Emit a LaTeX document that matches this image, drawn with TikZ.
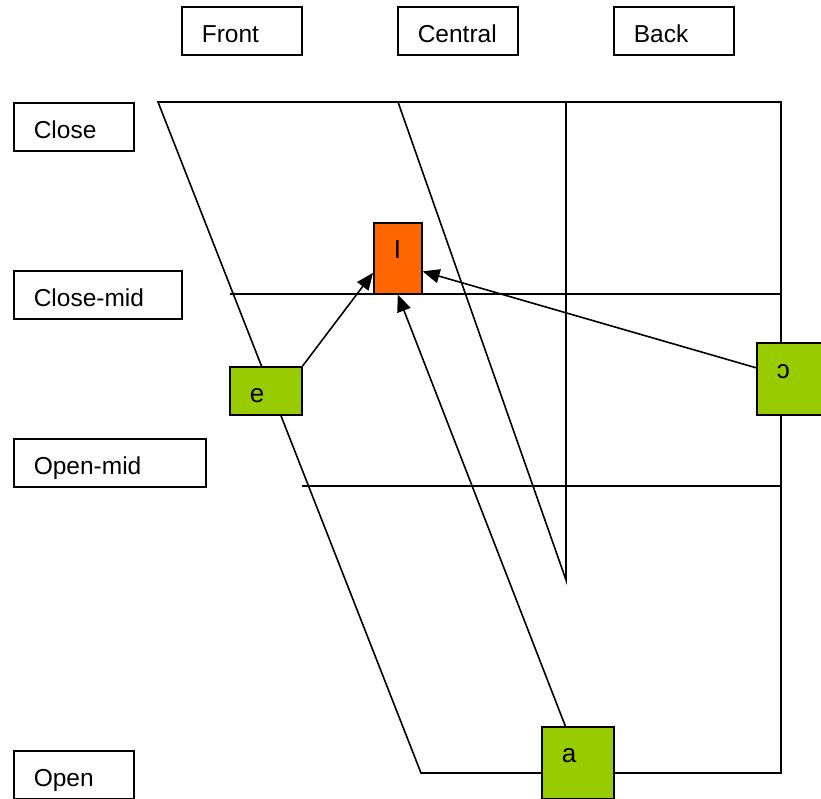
\documentclass[tikz,border=0pt]{standalone}
\usepackage{fontspec}
\setmainfont{Liberation Sans}
\usetikzlibrary{arrows.meta,calc}
\definecolor{vgreen}{HTML}{99CC00}
\definecolor{vorange}{HTML}{FF6600}
\tikzset{
  tbox/.style={draw, fill=white, line width=1.6pt, anchor=north west, inner xsep=20pt, inner ysep=0pt,
    text height=36pt, align=left, font=\fontsize{24.5}{29}\selectfont},
  vbox/.style={tbox, font=\fontsize{26}{30}\selectfont},
  chart/.style={line width=1.6pt, line join=miter},
  arr/.style={line width=1.6pt, -{Triangle[length=17pt,width=14pt]}}
}
\begin{document}
\begin{tikzpicture}[x=1pt,y=-1pt]
\clip (0,0) rectangle (821,799);
\fill[white] (0,0) rectangle (821,799);
% chart coordinates
\coordinate (tl) at (158,102);
\coordinate (tr) at (781,102);
\coordinate (br) at (781,773);
\coordinate (bl) at (421,773);
\coordinate (ctop) at (398,102);
\coordinate (cbot) at (566,580);
\coordinate (vtop) at (566,102);
\coordinate (cmL) at (230,294);
\coordinate (cmR) at (781,294);
\coordinate (omL) at (302,486);
\coordinate (omR) at (781,486);
% chart lines
\draw[chart] (tl) -- (tr) -- (br) -- (bl) -- cycle;
\draw[chart] (ctop) -- (cbot) -- (vtop);
\draw[chart] (cmL) -- (cmR);
\draw[chart] (omL) -- (omR);
% header labels
\node[tbox, text width=80pt, text depth=12pt] (front) at (181,6) {Front};
\node[tbox, text width=80pt, text depth=12pt] (central) at (397,6) {Central};
\node[tbox, text width=80pt, text depth=12pt] (back) at (613,6) {Back};
% height labels
\node[tbox, text width=80pt, text depth=12pt] (close) at (13,102) {Close};
\node[tbox, text width=128pt, text depth=12pt] (closemid) at (13,270) {Close-mid};
\node[tbox, text width=152pt, text depth=12pt] (openmid) at (13,438) {Open-mid};
\node[tbox, text width=80pt, text depth=12pt] (open) at (13,750) {Open};
% vowels
\node[vbox, fill=vorange, text width=8pt, text depth=35pt] (I) at (373,222) {I};
\node[vbox, fill=vgreen, text width=32pt, text depth=12pt] (e) at (229,366) {e};
\node[vbox, fill=vgreen, text width=32pt, text depth=36pt] (o) at (756,342) {ɔ};
\node[vbox, fill=vgreen, text width=32pt, text depth=36pt] (a) at (541,726) {a};
% arrows
\draw[arr] (e.north east) -- ($(I.north west)!0.7!(I.south west)$);
\draw[arr] ($(a.north west)!0.33!(a.north east)$) -- (I.south);
\draw[arr] ($(o.north west)!0.35!(o.south west)$) -- ($(I.north east)!0.68!(I.south east)$);
\end{tikzpicture}
\end{document}
